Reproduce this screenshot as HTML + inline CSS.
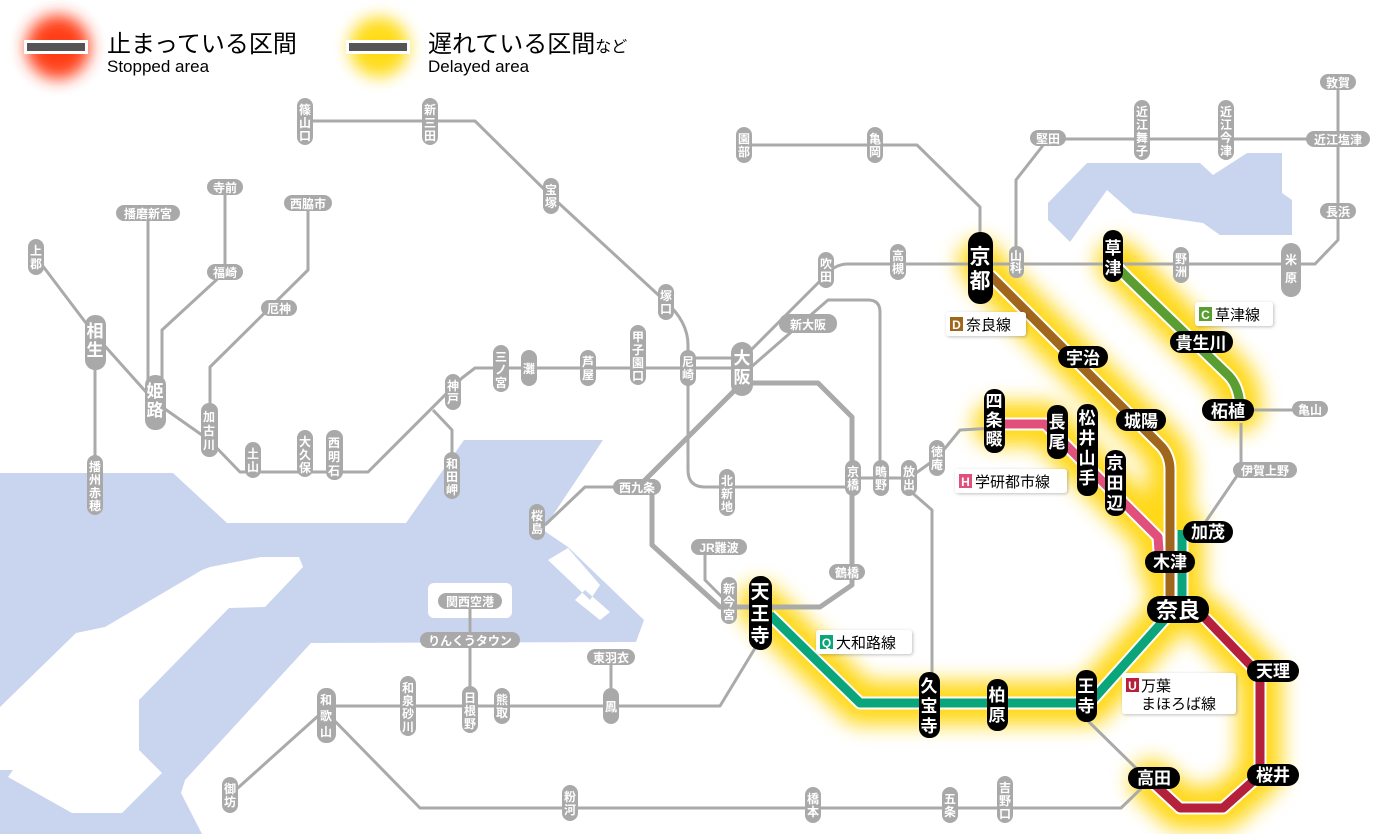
<!DOCTYPE html>
<html><head><meta charset="utf-8"><style>
html,body{margin:0;padding:0;background:#fff;}
svg{display:block;font-family:"Liberation Sans","Noto Sans CJK JP",sans-serif;}
.g{fill:#a9a9a9}
.gt{fill:#fff;font-size:12px;text-anchor:middle;font-weight:bold}
.bt{fill:#fff;font-size:17px;text-anchor:middle;font-weight:bold}
.gl{fill:none;stroke:#aaa;stroke-width:3;stroke-linejoin:round}
</style></head><body>
<svg width="1400" height="834" viewBox="0 0 1400 834" xmlns="http://www.w3.org/2000/svg">
<defs>
<filter id="blur" x="-20%" y="-20%" width="140%" height="140%"><feGaussianBlur stdDeviation="10"/></filter>
<filter id="blur2" x="-50%" y="-50%" width="200%" height="200%"><feGaussianBlur stdDeviation="8"/></filter>
<filter id="sh"><feDropShadow dx="1" dy="1" stdDeviation="1.5" flood-color="#000" flood-opacity="0.25"/></filter>
</defs>
<!-- sea -->
<path fill="#c9d5ef" d="M0,473 L173,473 L227,523 L406,523 L464,440 L603,440 L543,530 L568,547 L644,620 L636,642 L311,643 L185,780 L181,793 L202,834 L0,834 Z"/>
<path fill="#fff" d="M261,557 L299,557 L303,567 L265,607 L229,608 L139,700 L139,750 L162,773 L122,813 L72,813 L8,777 L13,770 L0,770 L0,707 L76,633 L105,627 L202,570 L210,567 Z"/>
<rect x="428" y="583" width="84" height="35" rx="6" fill="#fff"/>
<path fill="#fff" d="M548,560 L568,548 L600,585 L590,600 Z M575,600 L600,620 L610,612 L585,590 Z"/>
<!-- lake -->
<path fill="#c9d5ef" d="M1048,203 L1087,163 L1200,163 L1213,175 L1247,153 L1282,153 L1282,193 L1292,200 L1292,235 L1220,235 L1203,223 L1133,213 L1107,190 L1070,242 L1048,220 Z"/>

<!-- legend -->
<circle cx="58" cy="47" r="32" fill="#ff2a00" filter="url(#blur2)" opacity="0.9"/>
<rect x="24" y="40" width="64" height="14" fill="#fff"/><rect x="27" y="43" width="58" height="8" fill="#555"/>
<text x="107" y="52" font-size="24" fill="#000">止まっている区間</text>
<text x="107" y="72" font-size="17" fill="#000">Stopped area</text>
<circle cx="379" cy="47" r="30" fill="#ffd800" filter="url(#blur2)" opacity="0.9"/>
<rect x="346" y="40" width="64" height="14" fill="#fff"/><rect x="349" y="43" width="58" height="8" fill="#555"/>
<text x="428" y="52" font-size="24" fill="#000">遅れている区間<tspan font-size="16">など</tspan></text>
<text x="428" y="72" font-size="17" fill="#000">Delayed area</text>

<!-- glow -->
<g fill="none" stroke="#ffd400" stroke-width="44" stroke-linejoin="round" stroke-linecap="round" filter="url(#blur)" opacity="0.9">
<path d="M980,262 L990,275 L1160,445 Q1170,455 1170,470 L1170,605"/>
<path d="M1118,262 L1228,375 Q1240,387 1240,410"/>
<path d="M995,424 L1045,424 L1158,537 L1160,565"/>
<path d="M1182,530 L1182,600 L1090,703 L860,703 L770,615 L760,605"/>
<path d="M1205,618 L1260,675 L1260,775 L1223,808 L1180,808 L1152,782"/>
</g>

<!-- gray lines -->
<g class="gl">
<path d="M305,121 L475,121 L551,196 L666,302 Q688,322 688,345 L688,470 Q688,487 705,487 L853,487"/>
<path d="M36,257 L95,335 L155,402 L209,440 L240,472 L368,472 L462,378 L475,368 L741,368"/>
<path d="M95,342 L95,485"/>
<path d="M148,213 L148,402"/>
<path d="M225,187 L225,272 L162,330 L162,402"/>
<path d="M308,203 L308,270 L210,367 L210,430"/>
<path d="M433,410 L452,430 L452,475"/>
<path d="M688,358 L741,358"/>
<path d="M741,360 L826,275 Q835,264 848,264 L1315,264 L1338,240 L1338,82"/>
<path d="M750,368 L828,300 L868,300 Q880,300 880,312 L880,478"/>
<path d="M745,383 L818,383 L852,417 L852,585 L820,607 L760,607" stroke-width="5"/>
<path d="M735,390 L645,480 L652,487 L652,545 L720,607 L760,607" stroke-width="5"/>
<path d="M625,487 L585,487 L545,525"/>
<path d="M705,547 L705,580 L725,600"/>
<path d="M760,640 L720,706 L326,706"/>
<path d="M318,716 L230,795"/>
<path d="M326,712 L420,808 L1121,808 L1150,780"/>
<path d="M470,601 L470,706"/>
<path d="M611,657 L611,706"/>
<path d="M909,490 L932,510 L932,705"/>
<path d="M909,478 L937,458 L960,430 L995,428"/>
<path d="M853,478 L909,478"/>
<path d="M744,145 L917,145 L980,207 L980,262"/>
<path d="M1016,262 L1016,180 L1048,139 L1338,139"/>
<path d="M1240,410 L1310,410"/>
<path d="M1241,423 L1241,470 L1200,530"/>
<path d="M1087,720 L1140,772"/>
</g>

<!-- colored lines: white casing then color -->
<g fill="none" stroke="#fff" stroke-width="13" stroke-linejoin="round">
<path d="M990,275 L1160,445 Q1170,455 1170,470 L1170,605"/>
<path d="M1118,268 L1130,280 L1228,375 Q1240,387 1240,410"/>
<path d="M995,424 L1045,424 L1158,537 L1160,565"/>
<path d="M1182,530 L1182,600 L1090,703 L860,703 L770,615"/>
<path d="M1205,618 L1260,675 L1260,775 L1223,808 L1180,808 L1152,782"/>
</g>
<g fill="none" stroke-width="9" stroke-linejoin="round">
<path stroke="#a0661c" d="M990,275 L1160,445 Q1170,455 1170,470 L1170,605"/>
<path stroke="#5a9e32" d="M1118,268 L1130,280 L1228,375 Q1240,387 1240,410"/>
<path stroke="#e0507a" d="M995,424 L1045,424 L1158,537 L1160,565"/>
<path stroke="#0aa57a" d="M1182,530 L1182,600 L1090,703 L860,703 L770,615"/>
<path stroke="#b5203a" d="M1205,618 L1260,675 L1260,775 L1223,808 L1180,808 L1152,782"/>
</g>

<!-- gray vertical stations -->
<g>
<rect class="g" x="297" y="98" width="16" height="47" rx="8"/><text class="gt"><tspan x="305" y="114">篠</tspan><tspan x="305" y="127">山</tspan><tspan x="305" y="140">口</tspan></text>
<rect class="g" x="422" y="98" width="16" height="47" rx="8"/><text class="gt"><tspan x="430" y="114">新</tspan><tspan x="430" y="127">三</tspan><tspan x="430" y="140">田</tspan></text>
<rect class="g" x="543" y="178" width="16" height="36" rx="8"/><text class="gt"><tspan x="551" y="194">宝</tspan><tspan x="551" y="207">塚</tspan></text>
<rect class="g" x="658" y="284" width="16" height="36" rx="8"/><text class="gt"><tspan x="666" y="300">塚</tspan><tspan x="666" y="313">口</tspan></text>
<rect class="g" x="736" y="127" width="16" height="36" rx="8"/><text class="gt"><tspan x="744" y="143">園</tspan><tspan x="744" y="156">部</tspan></text>
<rect class="g" x="867" y="127" width="16" height="36" rx="8"/><text class="gt"><tspan x="875" y="143">亀</tspan><tspan x="875" y="156">岡</tspan></text>
<rect class="g" x="818" y="252" width="16" height="36" rx="8"/><text class="gt"><tspan x="826" y="268">吹</tspan><tspan x="826" y="281">田</tspan></text>
<rect class="g" x="890" y="244" width="16" height="36" rx="8"/><text class="gt"><tspan x="898" y="260">高</tspan><tspan x="898" y="273">槻</tspan></text>
<rect class="g" x="731" y="342" width="22" height="54" rx="11"/><text class="bt"><tspan x="742" y="364">大</tspan><tspan x="742" y="383">阪</tspan></text>
<rect class="g" x="680" y="350" width="16" height="36" rx="8"/><text class="gt"><tspan x="688" y="366">尼</tspan><tspan x="688" y="379">崎</tspan></text>
<rect class="g" x="630" y="325" width="16" height="60" rx="8"/><text class="gt"><tspan x="638" y="341">甲</tspan><tspan x="638" y="354">子</tspan><tspan x="638" y="367">園</tspan><tspan x="638" y="380">口</tspan></text>
<rect class="g" x="580" y="350" width="16" height="36" rx="8"/><text class="gt"><tspan x="588" y="366">芦</tspan><tspan x="588" y="379">屋</tspan></text>
<rect class="g" x="521" y="350" width="16" height="36" rx="8"/><text class="gt"><tspan x="529" y="373">灘</tspan></text>
<rect class="g" x="493" y="345" width="16" height="47" rx="8"/><text class="gt"><tspan x="501" y="361">三</tspan><tspan x="501" y="374">ノ</tspan><tspan x="501" y="387">宮</tspan></text>
<rect class="g" x="445" y="374" width="16" height="36" rx="8"/><text class="gt"><tspan x="453" y="390">神</tspan><tspan x="453" y="403">戸</tspan></text>
<rect class="g" x="444" y="452" width="16" height="47" rx="8"/><text class="gt"><tspan x="452" y="468">和</tspan><tspan x="452" y="481">田</tspan><tspan x="452" y="494">岬</tspan></text>
<rect class="g" x="326" y="430" width="17" height="50" rx="8"/><text class="gt" font-size="13"><tspan x="334" y="447">西</tspan><tspan x="334" y="461">明</tspan><tspan x="334" y="475">石</tspan></text>
<rect class="g" x="297" y="430" width="16" height="47" rx="8"/><text class="gt"><tspan x="305" y="446">大</tspan><tspan x="305" y="459">久</tspan><tspan x="305" y="472">保</tspan></text>
<rect class="g" x="245" y="442" width="16" height="36" rx="8"/><text class="gt"><tspan x="253" y="458">土</tspan><tspan x="253" y="471">山</tspan></text>
<rect class="g" x="201" y="403" width="17" height="54" rx="8"/><text class="gt" font-size="13"><tspan x="209" y="421">加</tspan><tspan x="209" y="435">古</tspan><tspan x="209" y="449">川</tspan></text>
<rect class="g" x="145" y="375" width="21" height="55" rx="10"/><text class="bt"><tspan x="155" y="397">姫</tspan><tspan x="155" y="416">路</tspan></text>
<rect class="g" x="85" y="315" width="21" height="55" rx="10"/><text class="bt"><tspan x="95" y="337">相</tspan><tspan x="95" y="356">生</tspan></text>
<rect class="g" x="28" y="239" width="16" height="36" rx="8"/><text class="gt"><tspan x="36" y="255">上</tspan><tspan x="36" y="268">郡</tspan></text>
<rect class="g" x="87" y="455" width="16" height="60" rx="8"/><text class="gt"><tspan x="95" y="471">播</tspan><tspan x="95" y="484">州</tspan><tspan x="95" y="497">赤</tspan><tspan x="95" y="510">穂</tspan></text>
<rect class="g" x="529" y="504" width="16" height="36" rx="8"/><text class="gt"><tspan x="537" y="520">桜</tspan><tspan x="537" y="533">島</tspan></text>
<rect class="g" x="719" y="469" width="16" height="47" rx="8"/><text class="gt"><tspan x="727" y="485">北</tspan><tspan x="727" y="498">新</tspan><tspan x="727" y="511">地</tspan></text>
<rect class="g" x="845" y="460" width="16" height="36" rx="8"/><text class="gt"><tspan x="853" y="476">京</tspan><tspan x="853" y="489">橋</tspan></text>
<rect class="g" x="873" y="460" width="16" height="36" rx="8"/><text class="gt"><tspan x="881" y="476">鴫</tspan><tspan x="881" y="489">野</tspan></text>
<rect class="g" x="901" y="460" width="16" height="36" rx="8"/><text class="gt"><tspan x="909" y="476">放</tspan><tspan x="909" y="489">出</tspan></text>
<rect class="g" x="929" y="440" width="16" height="36" rx="8"/><text class="gt"><tspan x="937" y="456">徳</tspan><tspan x="937" y="469">庵</tspan></text>
<rect class="g" x="721" y="577" width="16" height="47" rx="8"/><text class="gt"><tspan x="729" y="593">新</tspan><tspan x="729" y="606">今</tspan><tspan x="729" y="619">宮</tspan></text>
<rect class="g" x="317" y="688" width="19" height="55" rx="9"/><text class="gt" font-size="15"><tspan x="326" y="704">和</tspan><tspan x="326" y="720">歌</tspan><tspan x="326" y="736">山</tspan></text>
<rect class="g" x="400" y="676" width="16" height="60" rx="8"/><text class="gt"><tspan x="408" y="692">和</tspan><tspan x="408" y="705">泉</tspan><tspan x="408" y="718">砂</tspan><tspan x="408" y="731">川</tspan></text>
<rect class="g" x="462" y="686" width="16" height="47" rx="8"/><text class="gt"><tspan x="470" y="702">日</tspan><tspan x="470" y="715">根</tspan><tspan x="470" y="728">野</tspan></text>
<rect class="g" x="494" y="688" width="16" height="36" rx="8"/><text class="gt"><tspan x="502" y="704">熊</tspan><tspan x="502" y="717">取</tspan></text>
<rect class="g" x="603" y="688" width="16" height="36" rx="8"/><text class="gt"><tspan x="611" y="711">鳳</tspan></text>
<rect class="g" x="222" y="777" width="16" height="36" rx="8"/><text class="gt"><tspan x="230" y="793">御</tspan><tspan x="230" y="806">坊</tspan></text>
<rect class="g" x="562" y="785" width="16" height="36" rx="8"/><text class="gt"><tspan x="570" y="801">粉</tspan><tspan x="570" y="814">河</tspan></text>
<rect class="g" x="805" y="787" width="16" height="36" rx="8"/><text class="gt"><tspan x="813" y="803">橋</tspan><tspan x="813" y="816">本</tspan></text>
<rect class="g" x="942" y="787" width="16" height="36" rx="8"/><text class="gt"><tspan x="950" y="803">五</tspan><tspan x="950" y="816">条</tspan></text>
<rect class="g" x="997" y="776" width="16" height="47" rx="8"/><text class="gt"><tspan x="1005" y="792">吉</tspan><tspan x="1005" y="805">野</tspan><tspan x="1005" y="818">口</tspan></text>
<rect class="g" x="1134" y="100" width="16" height="60" rx="8"/><text class="gt"><tspan x="1142" y="116">近</tspan><tspan x="1142" y="129">江</tspan><tspan x="1142" y="142">舞</tspan><tspan x="1142" y="155">子</tspan></text>
<rect class="g" x="1218" y="100" width="16" height="60" rx="8"/><text class="gt"><tspan x="1226" y="116">近</tspan><tspan x="1226" y="129">江</tspan><tspan x="1226" y="142">今</tspan><tspan x="1226" y="155">津</tspan></text>
<rect class="g" x="1009" y="246" width="15" height="32" rx="7"/><text class="gt" font-size="11"><tspan x="1016" y="260">山</tspan><tspan x="1016" y="272">科</tspan></text>
<rect class="g" x="1173" y="247" width="16" height="36" rx="8"/><text class="gt"><tspan x="1181" y="263">野</tspan><tspan x="1181" y="276">洲</tspan></text>
<rect class="g" x="1281" y="243" width="20" height="54" rx="10"/><text class="gt" font-size="16"><tspan x="1291" y="264">米</tspan><tspan x="1291" y="282">原</tspan></text>
</g>
<!-- gray horizontal stations -->
<g>
<rect class="g" x="116" y="205" width="64" height="16" rx="8"/><text class="gt" x="148" y="218">播磨新宮</text>
<rect class="g" x="207" y="179" width="36" height="16" rx="8"/><text class="gt" x="225" y="192">寺前</text>
<rect class="g" x="207" y="264" width="36" height="16" rx="8"/><text class="gt" x="225" y="277">福崎</text>
<rect class="g" x="284" y="195" width="48" height="16" rx="8"/><text class="gt" x="308" y="208">西脇市</text>
<rect class="g" x="261" y="300" width="36" height="16" rx="8"/><text class="gt" x="279" y="313">厄神</text>
<rect class="g" x="779" y="314" width="58" height="19" rx="9"/><text class="gt" font-size="14" x="808" y="329">新大阪</text>
<rect class="g" x="613" y="479" width="48" height="16" rx="8"/><text class="gt" x="637" y="492">西九条</text>
<rect class="g" x="691" y="539" width="56" height="16" rx="8"/><text class="gt" x="719" y="552">JR難波</text>
<rect class="g" x="829" y="564" width="36" height="16" rx="8"/><text class="gt" x="847" y="577">鶴橋</text>
<rect class="g" x="438" y="593" width="64" height="16" rx="8"/><text class="gt" x="470" y="606">関西空港</text>
<rect class="g" x="420" y="632" width="100" height="16" rx="8"/><text class="gt" x="470" y="645">りんくうタウン</text>
<rect class="g" x="587" y="649" width="48" height="16" rx="8"/><text class="gt" x="611" y="662">東羽衣</text>
<rect class="g" x="1030" y="130" width="36" height="16" rx="8"/><text class="gt" x="1048" y="143">堅田</text>
<rect class="g" x="1306" y="131" width="64" height="16" rx="8"/><text class="gt" x="1338" y="144">近江塩津</text>
<rect class="g" x="1320" y="74" width="36" height="16" rx="8"/><text class="gt" x="1338" y="87">敦賀</text>
<rect class="g" x="1320" y="203" width="36" height="16" rx="8"/><text class="gt" x="1338" y="216">長浜</text>
<rect class="g" x="1292" y="401" width="36" height="16" rx="8"/><text class="gt" x="1310" y="414">亀山</text>
<rect class="g" x="1233" y="462" width="64" height="16" rx="8"/><text class="gt" x="1265" y="475">伊賀上野</text>
</g>

<!-- black stations -->
<g fill="#000">
<rect x="968" y="232" width="25" height="72" rx="12"/>
<rect x="1103" y="230" width="20" height="52" rx="10"/>
<rect x="1058" y="346" width="50" height="22" rx="11"/>
<rect x="1116" y="409" width="50" height="22" rx="11"/>
<rect x="1170" y="331" width="63" height="22" rx="11"/>
<rect x="1202" y="399" width="52" height="22" rx="11"/>
<rect x="984" y="389" width="21" height="64" rx="10"/>
<rect x="1047" y="405" width="21" height="54" rx="10"/>
<rect x="1077" y="404" width="21" height="92" rx="10"/>
<rect x="1105" y="450" width="21" height="66" rx="10"/>
<rect x="1183" y="521" width="50" height="22" rx="11"/>
<rect x="1145" y="551" width="50" height="22" rx="11"/>
<rect x="1147" y="596" width="62" height="27" rx="13"/>
<rect x="1247" y="660" width="52" height="22" rx="11"/>
<rect x="1247" y="764" width="52" height="22" rx="11"/>
<rect x="1128" y="767" width="52" height="22" rx="11"/>
<rect x="1076" y="670" width="21" height="52" rx="10"/>
<rect x="987" y="679" width="21" height="52" rx="10"/>
<rect x="919" y="672" width="21" height="66" rx="10"/>
<rect x="749" y="576" width="23" height="74" rx="11"/>
</g>
<g fill="#fff" font-weight="bold" text-anchor="middle" font-size="17">
<text font-size="21"><tspan x="980" y="264">京</tspan><tspan x="980" y="288">都</tspan></text>
<text><tspan x="1113" y="254">草</tspan><tspan x="1113" y="274">津</tspan></text>
<text x="1083" y="364">宇治</text>
<text x="1141" y="427">城陽</text>
<text x="1201" y="349">貴生川</text>
<text x="1228" y="417">柘植</text>
<text><tspan x="994" y="407">四</tspan><tspan x="994" y="426">条</tspan><tspan x="994" y="445">畷</tspan></text>
<text><tspan x="1057" y="428">長</tspan><tspan x="1057" y="448">尾</tspan></text>
<text><tspan x="1087" y="424">松</tspan><tspan x="1087" y="444">井</tspan><tspan x="1087" y="464">山</tspan><tspan x="1087" y="484">手</tspan></text>
<text><tspan x="1115" y="469">京</tspan><tspan x="1115" y="489">田</tspan><tspan x="1115" y="509">辺</tspan></text>
<text x="1208" y="538">加茂</text>
<text x="1170" y="568">木津</text>
<text x="1178" y="618" font-size="22">奈良</text>
<text x="1273" y="677">天理</text>
<text x="1273" y="781">桜井</text>
<text x="1154" y="784">高田</text>
<text><tspan x="1086" y="692">王</tspan><tspan x="1086" y="712">寺</tspan></text>
<text><tspan x="997" y="701">柏</tspan><tspan x="997" y="721">原</tspan></text>
<text><tspan x="929" y="692">久</tspan><tspan x="929" y="712">宝</tspan><tspan x="929" y="732">寺</tspan></text>
<text font-size="19"><tspan x="760" y="598">天</tspan><tspan x="760" y="620">王</tspan><tspan x="760" y="642">寺</tspan></text>
</g>

<!-- line labels -->
<g filter="url(#sh)" fill="#fff">
<rect x="946" y="312" width="80" height="24" rx="3"/>
<rect x="1195" y="302" width="78" height="24" rx="3"/>
<rect x="955" y="469" width="112" height="24" rx="3"/>
<rect x="816" y="630" width="96" height="24" rx="3"/>
<rect x="1122" y="673" width="114" height="41" rx="3"/>
</g>
<g font-size="15" fill="#000">
<rect x="950" y="317" width="13" height="14" fill="#a0661c"/><text x="956.5" y="329" fill="#fff" font-size="12" text-anchor="middle" font-weight="bold">D</text><text x="966" y="330">奈良線</text>
<rect x="1199" y="307" width="13" height="14" fill="#5a9e32"/><text x="1205.5" y="319" fill="#fff" font-size="12" text-anchor="middle" font-weight="bold">C</text><text x="1215" y="320">草津線</text>
<rect x="959" y="474" width="13" height="14" fill="#e0507a"/><text x="965.5" y="486" fill="#fff" font-size="12" text-anchor="middle" font-weight="bold">H</text><text x="975" y="487">学研都市線</text>
<rect x="820" y="635" width="13" height="14" fill="#0aa57a"/><text x="826.5" y="647" fill="#fff" font-size="12" text-anchor="middle" font-weight="bold">Q</text><text x="836" y="648">大和路線</text>
<rect x="1126" y="678" width="13" height="14" fill="#b5203a"/><text x="1132.5" y="690" fill="#fff" font-size="12" text-anchor="middle" font-weight="bold">U</text><text x="1141" y="691">万葉</text><text x="1141" y="709">まほろば線</text>
</g>
</svg>
</body></html>
